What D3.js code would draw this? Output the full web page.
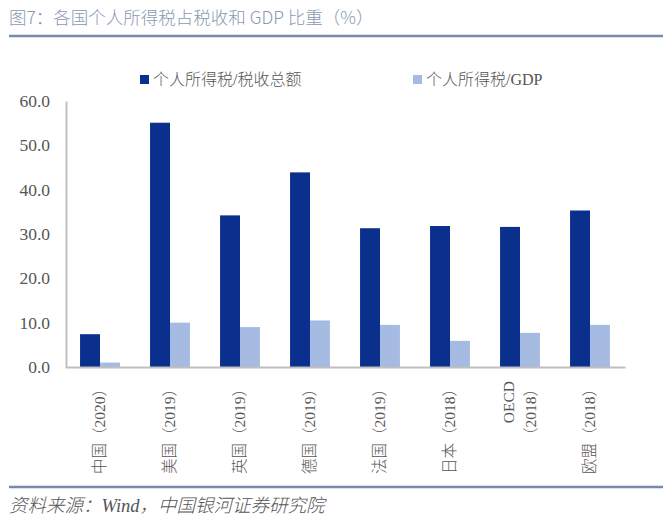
<!DOCTYPE html>
<html><head><meta charset="utf-8">
<script src="https://cdn.jsdelivr.net/npm/d3@7"></script>
<style>
body{margin:0;background:#fff;}
svg{display:block;}
text{font-family:"Liberation Serif","Noto Sans CJK SC",serif;}
</style></head>
<body>
<svg id="c" width="672" height="523"></svg>
<script>
const categories = ["中国（2020）","美国（2019）","英国（2019）","德国（2019）","法国（2019）","日本（2018）","OECD|（2018）","欧盟（2018）"];
const seriesNames = ["个人所得税/税收总额","个人所得税/GDP"];
const taxShare = [7.4, 55.1, 34.2, 43.9, 31.3, 31.8, 31.6, 35.3];
const gdpShare = [1.0, 10.0, 9.0, 10.5, 9.5, 5.9, 7.7, 9.5];
const yTicks = [0,10,20,30,40,50,60];
const colors = ["#0b2f8c","#a5bbe2"];

const svg = d3.select("#c");
const pLeft = 65, pRight = 625, pTop = 101, pBottom = 367;

// Title
svg.append("text").attr("x",9).attr("y",24).attr("font-size",17.5).attr("fill","#8a98b3")
  .style("font-family","'Noto Sans CJK SC','Liberation Serif'").style("font-weight","300")
  .text("图7：各国个人所得税占税收和 GDP 比重（%）");
svg.append("line").attr("x1",9).attr("x2",663).attr("y1",36).attr("y2",36)
  .attr("stroke","#7a8aaa").attr("stroke-width",2.5);

const x = d3.scaleBand().domain(categories).range([pLeft,pRight]).paddingInner(0.43).paddingOuter(0.215);
const x1 = d3.scaleBand().domain([0,1]).range([0,x.bandwidth()]);
const y = d3.scaleLinear().domain([0,60]).range([pBottom,pTop]);

// y axis
const ya = svg.append("g").attr("transform",`translate(${pLeft+1},0)`)
  .call(d3.axisLeft(y).tickValues(yTicks).tickFormat(d3.format(".1f")).tickSize(0).tickPadding(16));
ya.select(".domain").attr("stroke","#bfbfbf").attr("stroke-width",2);
ya.selectAll("text").attr("font-size",17.5).attr("fill","#555").style("font-family","'Liberation Serif',serif");

// bars
const data = [taxShare, gdpShare];
categories.forEach((c,i)=>{
  data.forEach((arr,s)=>{
    svg.append("rect").attr("x",x(c)+x1(s)).attr("width",x1.bandwidth())
      .attr("y",y(arr[i])).attr("height",y(0)-y(arr[i])).attr("fill",colors[s]);
  });
});

// x axis
const xa = svg.append("g").attr("transform",`translate(0,${pBottom})`)
  .call(d3.axisBottom(x).tickSize(0).tickFormat(""));
xa.select(".domain").attr("stroke","#bfbfbf").attr("stroke-width",2);

// x labels rotated
categories.forEach(c=>{
  const cx = x(c)+x.bandwidth()/2;
  const lines = c.split("|");
  const g = svg.append("g").attr("transform",`translate(${cx},${pBottom+14}) rotate(-90)`);
  const lh = 22;
  lines.forEach((ln,k)=>{
    g.append("text").attr("x",0).attr("y",(k-(lines.length-1)/2)*lh)
      .attr("dy","0.35em").attr("text-anchor","end").attr("font-size",15.5).attr("fill","#555")
      .style("font-weight","300").text(ln);
  });
});

// legend
const legX = [140,413];
seriesNames.forEach((n,i)=>{
  svg.append("rect").attr("x",legX[i]).attr("y",75).attr("width",9).attr("height",9).attr("fill",colors[i]);
  svg.append("text").attr("x",legX[i]+13).attr("y",85).attr("font-size",16).attr("fill","#555")
    .style("font-weight","300").text(n);
});

// bottom line and source
svg.append("line").attr("x1",9).attr("x2",663).attr("y1",487).attr("y2",487)
  .attr("stroke","#7a8aaa").attr("stroke-width",2.5);
svg.append("text").attr("x",9).attr("y",512).attr("font-size",18.5).attr("fill","#555")
  .style("font-style","italic").style("font-weight","300").text("资料来源：Wind，中国银河证券研究院");
</script>
</body></html>
